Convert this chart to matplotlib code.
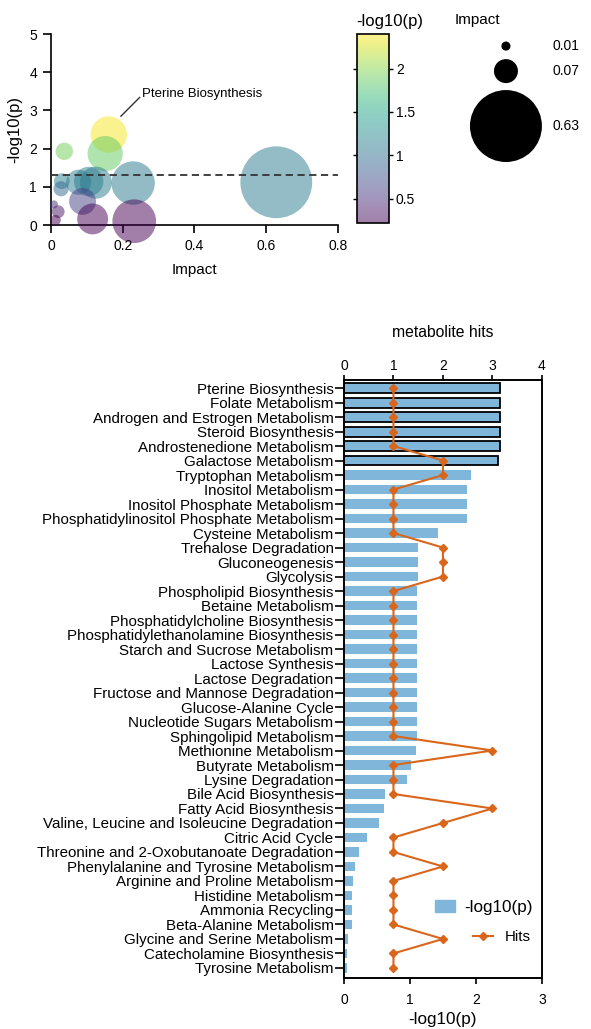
import numpy as np
import matplotlib
matplotlib.use("Agg")
import matplotlib.pyplot as plt
from matplotlib.colors import Normalize
from matplotlib.lines import Line2D
from matplotlib.patches import Patch

plt.rcParams["font.family"] = ["Liberation Sans", "DejaVu Sans"]
plt.rcParams["axes.linewidth"] = 1.2

# Pathway impact bubbles: impact on x, -log10(p) on y
bubble_impact = [0.161, 0.151, 0.037, 0.628, 0.229, 0.030, 0.028, 0.077,
                 0.105, 0.125, 0.088, 0.116, 0.232, 0.008, 0.020, 0.013]
bubble_logp = [2.37, 1.87, 1.93, 1.12, 1.10, 1.15, 0.95, 1.12,
               1.14, 1.11, 0.62, 0.16, 0.10, 0.54, 0.35, 0.13]
legend_impacts = [0.01, 0.07, 0.63]

# Enrichment results
pathways = [
    "Pterine Biosynthesis", "Folate Metabolism", "Androgen and Estrogen Metabolism",
    "Steroid Biosynthesis", "Androstenedione Metabolism", "Galactose Metabolism",
    "Tryptophan Metabolism", "Inositol Metabolism", "Inositol Phosphate Metabolism",
    "Phosphatidylinositol Phosphate Metabolism", "Cysteine Metabolism",
    "Trehalose Degradation", "Gluconeogenesis", "Glycolysis",
    "Phospholipid Biosynthesis", "Betaine Metabolism",
    "Phosphatidylcholine Biosynthesis", "Phosphatidylethanolamine Biosynthesis",
    "Starch and Sucrose Metabolism", "Lactose Synthesis", "Lactose Degradation",
    "Fructose and Mannose Degradation", "Glucose-Alanine Cycle",
    "Nucleotide Sugars Metabolism", "Sphingolipid Metabolism",
    "Methionine Metabolism", "Butyrate Metabolism", "Lysine Degradation",
    "Bile Acid Biosynthesis", "Fatty Acid Biosynthesis",
    "Valine, Leucine and Isoleucine Degradation", "Citric Acid Cycle",
    "Threonine and 2-Oxobutanoate Degradation",
    "Phenylalanine and Tyrosine Metabolism", "Arginine and Proline Metabolism",
    "Histidine Metabolism", "Ammonia Recycling", "Beta-Alanine Metabolism",
    "Glycine and Serine Metabolism", "Catecholamine Biosynthesis",
    "Tyrosine Metabolism",
]
neglogp = [2.37, 2.37, 2.37, 2.37, 2.37, 2.33, 1.93, 1.87, 1.87, 1.87, 1.42,
           1.12, 1.12, 1.12, 1.11, 1.11, 1.11, 1.11, 1.11, 1.11, 1.11, 1.11,
           1.11, 1.11, 1.11, 1.09, 1.01, 0.95, 0.615, 0.605, 0.535, 0.343,
           0.222, 0.161, 0.131, 0.121, 0.121, 0.121, 0.055, 0.04, 0.04]
hits = [1, 1, 1, 1, 1, 2, 2, 1, 1, 1, 1, 2, 2, 2, 1, 1, 1, 1, 1, 1, 1, 1,
        1, 1, 1, 3, 1, 1, 1, 3, 2, 1, 1, 2, 1, 1, 1, 1, 2, 1, 1]
n_outlined = 6

SIZE = 4260  # points^2 per unit impact
BAR_BLUE = "#7fb6da"
ORANGE = "#d9661a"

fig = plt.figure(figsize=(5.91, 10.29), dpi=100)

# ---- bubble plot ----
ax = fig.add_axes([0.0863, 0.7813, 0.4856, 0.1856])
norm = Normalize(vmin=0.22, vmax=2.40)
sc = ax.scatter(bubble_impact, bubble_logp, s=np.array(bubble_impact) * SIZE,
                c=bubble_logp, cmap="viridis", norm=norm, alpha=0.5,
                linewidths=0, clip_on=False, zorder=3)
ax.axhline(1.3, color="#333333", ls=(0, (4, 2.5)), lw=1.3, zorder=4)
ax.set_xlim(0, 0.8)
ax.set_ylim(0, 5)
ax.set_xticks([0, 0.2, 0.4, 0.6, 0.8])
ax.set_xticklabels(["0", "0.2", "0.4", "0.6", "0.8"])
ax.set_yticks(range(6))
for s in ("top", "right"):
    ax.spines[s].set_visible(False)
ax.tick_params(direction="out", length=6, width=1.2, labelsize=10, pad=4)
ax.set_xlabel("Impact", fontsize=11, labelpad=7)
ax.set_ylabel("-log10(p)", fontsize=12, labelpad=5)
ax.plot([0.195, 0.247], [2.85, 3.34], color="#333333", lw=1)
ax.text(0.255, 3.42, "Pterine Biosynthesis", fontsize=9.5, va="center",
        ha="left")

# colour bar
cax = fig.add_axes([0.604, 0.7833, 0.054, 0.1837])
cb = fig.colorbar(sc, cax=cax, ticks=[0.5, 1, 1.5, 2])
cb.ax.set_yticklabels(["0.5", "1", "1.5", "2"])
cb.ax.tick_params(labelsize=10, length=3, width=1, left=True,
                  direction="out", pad=2)
cb.outline.set_linewidth(1.2)
fig.text(0.603, 0.9795, "-log10(p)", fontsize=12, ha="left", va="center")

# impact size key
kax = fig.add_axes([0.72, 0.80, 0.28, 0.19])
kax.set_xlim(0, 1)
kax.set_ylim(0, 1)
kax.axis("off")
key_y = [0.817, 0.689, 0.408]
kax.scatter([0.486] * 3, key_y, s=np.array(legend_impacts) * SIZE,
            color="black", linewidths=0, clip_on=False)
for v, yy in zip(legend_impacts, key_y):
    kax.text(0.77, yy, f"{v:g}", fontsize=10, va="center", ha="left")
fig.text(0.770, 0.9806, "Impact", fontsize=11, ha="left", va="center")

# ---- enrichment bars with hits ----
bx = fig.add_axes([0.582, 0.0496, 0.335, 0.581])
ypos = np.arange(len(pathways))
edges = ["black" if i < n_outlined else "none" for i in ypos]
bx.barh(ypos, neglogp, height=0.68, color=BAR_BLUE, edgecolor=edges,
        linewidth=1.3)
bx.set_xlim(0, 3)
bx.set_ylim(len(pathways) - 0.31, -0.55)
bx.set_yticks(ypos)
bx.set_yticklabels(pathways, fontsize=10.9)
bx.set_xticks([0, 1, 2, 3])
bx.tick_params(axis="y", length=6.5, width=1.2, pad=1)
bx.tick_params(axis="x", length=4, width=1.2, labelsize=10, pad=6.5)
bx.set_xlabel("-log10(p)", fontsize=12.3, labelpad=4)

hx = bx.twiny()
hx.plot(hits, ypos, color=ORANGE, lw=1.5, marker="D", ms=4.5)
hx.set_xlim(0, 4)
hx.set_xticks([0, 1, 2, 3, 4])
hx.tick_params(axis="x", length=3.6, width=1.2, labelsize=10, pad=1.5)
hx.set_xlabel("metabolite hits", fontsize=11.3, labelpad=16)

leg1 = hx.legend([Patch(color=BAR_BLUE)], ["-log10(p)"], frameon=False,
                 fontsize=12.3, handlelength=1.2, handleheight=0.75,
                 loc="center left", bbox_to_anchor=(0.424, 0.118),
                 borderaxespad=0, handletextpad=0.55)
hx.add_artist(leg1)
hx.legend([Line2D([], [], color=ORANGE, lw=1.5, marker="D", ms=4.5)], ["Hits"],
          frameon=False, fontsize=10.8, handlelength=1.35,
          loc="center left", bbox_to_anchor=(0.62, 0.068),
          borderaxespad=0, handletextpad=0.8)

fig.savefig("out.png", dpi=100)
